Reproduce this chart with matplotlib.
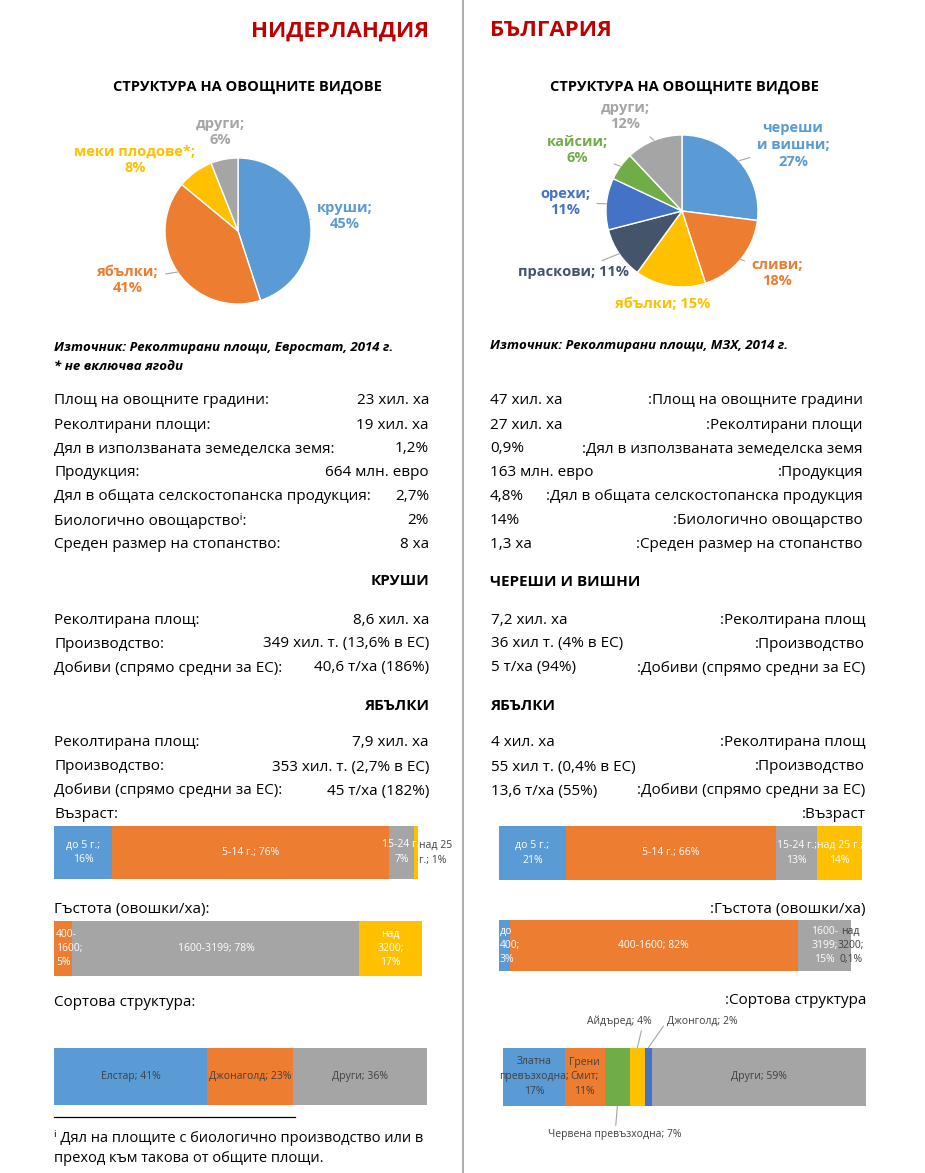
import matplotlib
matplotlib.use("Agg")
import matplotlib.pyplot as plt
from matplotlib.lines import Line2D
import numpy as np

W, H = 925, 1173
plt.rcParams["font.family"] = ["Open Sans", "DejaVu Sans"]

BLUE, ORANGE, GRAY = "#5B9BD5", "#ED7D31", "#A5A5A5"
YELLOW, DBLUE, GREEN, NAVY = "#FFC000", "#4472C4", "#70AD47", "#44546A"
DARK = "#404040"
RED = "#C00000"

# ---- data ----
nl_pie_cats = ["круши", "ябълки", "меки плодове*", "други"]
nl_pie_vals = [45, 41, 8, 6]
bg_pie_cats = ["череши\nи вишни", "сливи", "ябълки", "праскови", "орехи", "кайсии", "други"]
bg_pie_vals = [27, 18, 15, 11, 11, 6, 12]

nl_gen_labels = ["Площ на овощните градини:", "Реколтирани площи:",
                 "Дял в използваната земеделска земя:", "Продукция:",
                 "Дял в общата селскостопанска продукция:",
                 "Биологично овощарство\u2071:", "Среден размер на стопанство:"]
nl_gen_values = ["23 хил. ха", "19 хил. ха", "1,2%", "664 млн. евро", "2,7%", "2%", "8 ха"]
bg_gen_labels = [":Площ на овощните градини", ":Реколтирани площи",
                 ":Дял в използваната земеделска земя", ":Продукция",
                 ":Дял в общата селскостопанска продукция",
                 ":Биологично овощарство", ":Среден размер на стопанство"]
bg_gen_values = ["47 хил. ха", "27 хил. ха", "0,9%", "163 млн. евро", "4,8%", "14%", "1,3 ха"]

crop_labels_nl = ["Реколтирана площ:", "Производство:", "Добиви (спрямо средни за ЕС):"]
crop_labels_bg = [":Реколтирана площ", ":Производство", ":Добиви (спрямо средни за ЕС)"]
nl_pear_values = ["8,6 хил. ха", "349 хил. т. (13,6% в ЕС)", "40,6 т/ха (186%)"]
nl_apple_values = ["7,9 хил. ха", "353 хил. т. (2,7% в ЕС)", "45 т/ха (182%)"]
bg_cherry_values = ["7,2 хил. ха", "36 хил т. (4% в ЕС)", "5 т/ха (94%)"]
bg_apple_values = ["4 хил. ха", "55 хил т. (0,4% в ЕС)", "13,6 т/ха (55%)"]

nl_age_cats = ["до 5 г.", "5-14 г.", "15-24 г.", "над 25\nг."]
nl_age_vals = [16, 76, 7, 1]
bg_age_cats = ["до 5 г.", "5-14 г.", "15-24 г.", "над 25 г."]
bg_age_vals = [21, 66, 13, 14]
nl_dens_cats = ["400-\n1600", "1600-3199", "над\n3200"]
nl_dens_vals = [5, 78, 17]
bg_dens_cats = ["до\n400", "400-1600", "1600-\n3199", "над\n3200"]
bg_dens_vals = [3, 82, 15, 0.1]
nl_var_cats = ["Елстар", "Джонаголд", "Други"]
nl_var_vals = [41, 23, 36]
bg_var_cats = ["Златна\nпревъзходна", "Грени\nСмит", "Червена превъзходна",
               "Айдъред", "Джонголд", "Други"]
bg_var_vals = [17, 11, 7, 4, 2, 59]


def pct(v):
    return f"{v:g}".replace(".", ",") + "%"


def fx(x):
    return x / W


def fy(y):
    return 1 - y / H


fig = plt.figure(figsize=(W / 100, H / 100), dpi=100)
fig.patch.set_facecolor("white")


def txt(x, y, s, **kw):
    kw.setdefault("va", "center")
    kw.setdefault("fontsize", 11)
    kw.setdefault("color", "black")
    fig.text(fx(x), fy(y), s, **kw)


def add_ax(x0, y0, x1, y1):
    return fig.add_axes([fx(x0), fy(y1), (x1 - x0) / W, (y1 - y0) / H])


def pie(cx, cy, r, vals, colors, texts, spots, text_colors, leaders):
    ax = add_ax(cx - r, cy - r, cx + r, cy + r)
    wedges, _ = ax.pie(vals, colors=colors, startangle=90, counterclock=False,
                       radius=1, wedgeprops=dict(edgecolor="white", linewidth=1))
    ax.set_xlim(-1, 1)
    ax.set_ylim(-1, 1)
    ax.set_aspect("equal")
    for w, t, (lx, ly), tc, ld in zip(wedges, texts, spots, text_colors, leaders):
        mid = np.deg2rad((w.theta1 + w.theta2) / 2)
        arrow = dict(arrowstyle="-", color="#A6A6A6", lw=0.8, shrinkA=3, shrinkB=0) if ld else None
        ax.annotate(t, xy=(np.cos(mid), np.sin(mid)), xycoords="data",
                    xytext=(lx, H - ly), textcoords="figure pixels",
                    ha="center", va="center", fontsize=10.5, fontweight="bold",
                    color=tc, linespacing=1.25, arrowprops=arrow,
                    annotation_clip=False)


def stacked_bar(x0, y0, x1, y1, vals, colors):
    ax = add_ax(x0, y0, x1, y1)
    lefts = []
    left = 0
    for v, c in zip(vals, colors):
        ax.barh(0, v, left=left, height=1, color=c, linewidth=0)
        lefts.append(left)
        left += v
    ax.set_xlim(0, left)
    ax.set_ylim(-0.5, 0.5)
    ax.axis("off")
    return ax, lefts


# ---- headers and divider ----
fig.add_artist(Line2D([fx(463), fx(463)], [0, 1], color="#A6A6A6", lw=1.3))
txt(340, 31, "НИДЕРЛАНДИЯ", ha="center", fontsize=16, fontweight="bold", color=RED)
txt(490, 31, "БЪЛГАРИЯ", ha="left", fontsize=16, fontweight="bold", color=RED)

# ---- pies ----
txt(247, 87, "СТРУКТУРА НА ОВОЩНИТЕ ВИДОВЕ", ha="center", fontweight="bold", fontsize=10.5)
txt(684, 87, "СТРУКТУРА НА ОВОЩНИТЕ ВИДОВЕ", ha="center", fontweight="bold", fontsize=10.5)

nl_colors = [BLUE, ORANGE, YELLOW, GRAY]
nl_texts = [f"{c};\n{pct(v)}" for c, v in zip(nl_pie_cats, nl_pie_vals)]
pie(238, 231, 73, nl_pie_vals, nl_colors, nl_texts,
    [(345, 216), (128, 280), (135, 160), (220, 132)],
    nl_colors, [True, True, False, False])

bg_colors = [BLUE, ORANGE, YELLOW, NAVY, DBLUE, GREEN, GRAY]
bg_seps = ["\n", "\n", " ", " ", "\n", "\n", "\n"]
bg_texts = [f"{c};{s}{pct(v)}" for c, s, v in zip(bg_pie_cats, bg_seps, bg_pie_vals)]
pie(682, 211, 76, bg_pie_vals, bg_colors, bg_texts,
    [(793, 145), (777, 273), (663, 304), (574, 272), (565, 202), (577, 150), (625, 116)],
    bg_colors, [True, True, False, True, True, True, True])

txt(54, 347, "Източник: Реколтирани площи, Евростат, 2014 г.", fontsize=9.5,
    fontweight="bold", style="italic")
txt(54, 367, "* не включва ягоди", fontsize=9.5, fontweight="bold", style="italic")
txt(490, 346, "Източник: Реколтирани площи, МЗХ, 2014 г.", fontsize=9.5,
    fontweight="bold", style="italic")

# ---- text tables ----
for i, (lab, val) in enumerate(zip(nl_gen_labels, nl_gen_values)):
    y = 401 + i * 24
    txt(54, y, lab)
    txt(429, y, val, ha="right")
for i, (lab, val) in enumerate(zip(bg_gen_labels, bg_gen_values)):
    y = 401 + i * 24
    txt(490, y, val)
    txt(863, y, lab, ha="right")

txt(429, 581, "КРУШИ", ha="right", fontweight="bold")
txt(490, 582, "ЧЕРЕШИ И ВИШНИ", fontweight="bold")
txt(429, 706, "ЯБЪЛКИ", ha="right", fontweight="bold")
txt(490, 706, "ЯБЪЛКИ", fontweight="bold")

for block_y, nl_vals, bg_vals in [(620, nl_pear_values, bg_cherry_values),
                                  (743, nl_apple_values, bg_apple_values)]:
    for i in range(3):
        y = block_y + i * 24
        txt(54, y, crop_labels_nl[i])
        txt(429, y, nl_vals[i], ha="right")
        txt(491, y, bg_vals[i])
        txt(865, y, crop_labels_bg[i], ha="right")

# ---- age bars ----
txt(54, 815, "Възраст:")
txt(866, 815, ":Възраст", ha="right")

ax, lefts = stacked_bar(54, 826, 418, 879, nl_age_vals, [BLUE, ORANGE, GRAY, YELLOW])
for k in range(3):
    sep = " " if k == 1 else "\n"
    ax.text(lefts[k] + nl_age_vals[k] / 2, 0, f"{nl_age_cats[k]};{sep}{pct(nl_age_vals[k])}",
            ha="center", va="center", fontsize=7.5, color="white", linespacing=1.5)
ax.text(lefts[3] + nl_age_vals[3] + 0.4, 0, f"{nl_age_cats[3]}; {pct(nl_age_vals[3])}",
        ha="left", va="center", fontsize=7.5, color=DARK, linespacing=1.5,
        bbox=dict(facecolor="white", edgecolor="none", pad=1), clip_on=False)

ax, lefts = stacked_bar(499, 826, 862, 880, bg_age_vals, [BLUE, ORANGE, GRAY, YELLOW])
for k in range(4):
    sep = " " if k == 1 else "\n"
    ax.text(lefts[k] + bg_age_vals[k] / 2, 0, f"{bg_age_cats[k]};{sep}{pct(bg_age_vals[k])}",
            ha="center", va="center", fontsize=7.5, color="white", linespacing=1.5,
            clip_on=True)

# ---- density bars ----
txt(54, 909, "Гъстота (овошки/ха):")
txt(866, 909, ":Гъстота (овошки/ха)", ha="right")

ax, lefts = stacked_bar(54, 921, 422, 976, nl_dens_vals, [ORANGE, GRAY, YELLOW])
ax.text(lefts[0] + 0.6, 0, f"{nl_dens_cats[0]};\n{pct(nl_dens_vals[0])}", ha="left",
        va="center", fontsize=7.5, color="white", linespacing=1.4)
ax.text(lefts[1] + nl_dens_vals[1] / 2, 0, f"{nl_dens_cats[1]}; {pct(nl_dens_vals[1])}",
        ha="center", va="center", fontsize=7.5, color="white")
ax.text(lefts[2] + nl_dens_vals[2] / 2, 0, f"{nl_dens_cats[2]};\n{pct(nl_dens_vals[2])}",
        ha="center", va="center", fontsize=7.5, color="white", linespacing=1.4)

ax, lefts = stacked_bar(499, 920, 851, 971, bg_dens_vals, [BLUE, ORANGE, GRAY, YELLOW])
ax.text(lefts[0] + 0.1, 0, f"{bg_dens_cats[0]};\n{pct(bg_dens_vals[0])}", ha="left",
        va="center", fontsize=7.5, color="white", linespacing=1.4)
ax.text(lefts[1] + bg_dens_vals[1] / 2, 0, f"{bg_dens_cats[1]}; {pct(bg_dens_vals[1])}",
        ha="center", va="center", fontsize=7.5, color="white")
ax.text(lefts[2] + bg_dens_vals[2] / 2, 0, f"{bg_dens_cats[2]};\n{pct(bg_dens_vals[2])}",
        ha="center", va="center", fontsize=7.5, color="white", linespacing=1.4)
ax.text(lefts[3] + bg_dens_vals[3] / 2, 0, f"{bg_dens_cats[3]};\n{pct(bg_dens_vals[3])}",
        ha="center", va="center", fontsize=7.5, color=DARK, linespacing=1.4, clip_on=False)

# ---- variety bars ----
txt(54, 1003, "Сортова структура:")
txt(866, 1000, ":Сортова структура", ha="right")

ax, lefts = stacked_bar(54, 1048, 427, 1105, nl_var_vals, [BLUE, ORANGE, GRAY])
for k in range(3):
    ax.text(lefts[k] + nl_var_vals[k] / 2, 0, f"{nl_var_cats[k]}; {pct(nl_var_vals[k])}",
            ha="center", va="center", fontsize=7.5, color=DARK)

ax, lefts = stacked_bar(503, 1048, 866, 1106, bg_var_vals,
                        [BLUE, ORANGE, GREEN, YELLOW, DBLUE, GRAY])
for k in (0, 1):
    ax.text(lefts[k] + bg_var_vals[k] / 2, 0, f"{bg_var_cats[k]};\n{pct(bg_var_vals[k])}",
            ha="center", va="center", fontsize=7.5, color=DARK, linespacing=1.5)
ax.text(lefts[5] + bg_var_vals[5] / 2, 0, f"{bg_var_cats[5]}; {pct(bg_var_vals[5])}",
        ha="center", va="center", fontsize=7.5, color=DARK)
lead = dict(arrowstyle="-", color="#A6A6A6", lw=0.8, shrinkA=1, shrinkB=0)
ax.annotate(f"{bg_var_cats[2]}; {pct(bg_var_vals[2])}",
            xy=(lefts[2] + bg_var_vals[2] / 2, -0.5), xytext=(615, H - 1135),
            textcoords="figure pixels", ha="center", va="center", fontsize=7.5,
            color=DARK, arrowprops=lead, annotation_clip=False)
ax.annotate(f"{bg_var_cats[3]}; {pct(bg_var_vals[3])}",
            xy=(lefts[3] + bg_var_vals[3] / 2, 0.5), xytext=(652, H - 1021),
            textcoords="figure pixels", ha="right", va="center", fontsize=7.5,
            color=DARK, arrowprops=dict(lead, relpos=(0.85, 0)), annotation_clip=False)
ax.annotate(f"{bg_var_cats[4]}; {pct(bg_var_vals[4])}",
            xy=(lefts[4] + bg_var_vals[4] / 2, 0.5), xytext=(667, H - 1021),
            textcoords="figure pixels", ha="left", va="center", fontsize=7.5,
            color=DARK, arrowprops=dict(lead, relpos=(0, 0.5)), annotation_clip=False)

# ---- footnote ----
fig.add_artist(Line2D([fx(54), fx(295)], [fy(1117), fy(1117)], color="black", lw=0.9))
txt(54, 1138, "\u2071 Дял на площите с биологично производство или в", fontsize=10.5)
txt(54, 1159, "преход към такова от общите площи.", fontsize=10.5)

fig.savefig("out.png", dpi=100, facecolor="white")
